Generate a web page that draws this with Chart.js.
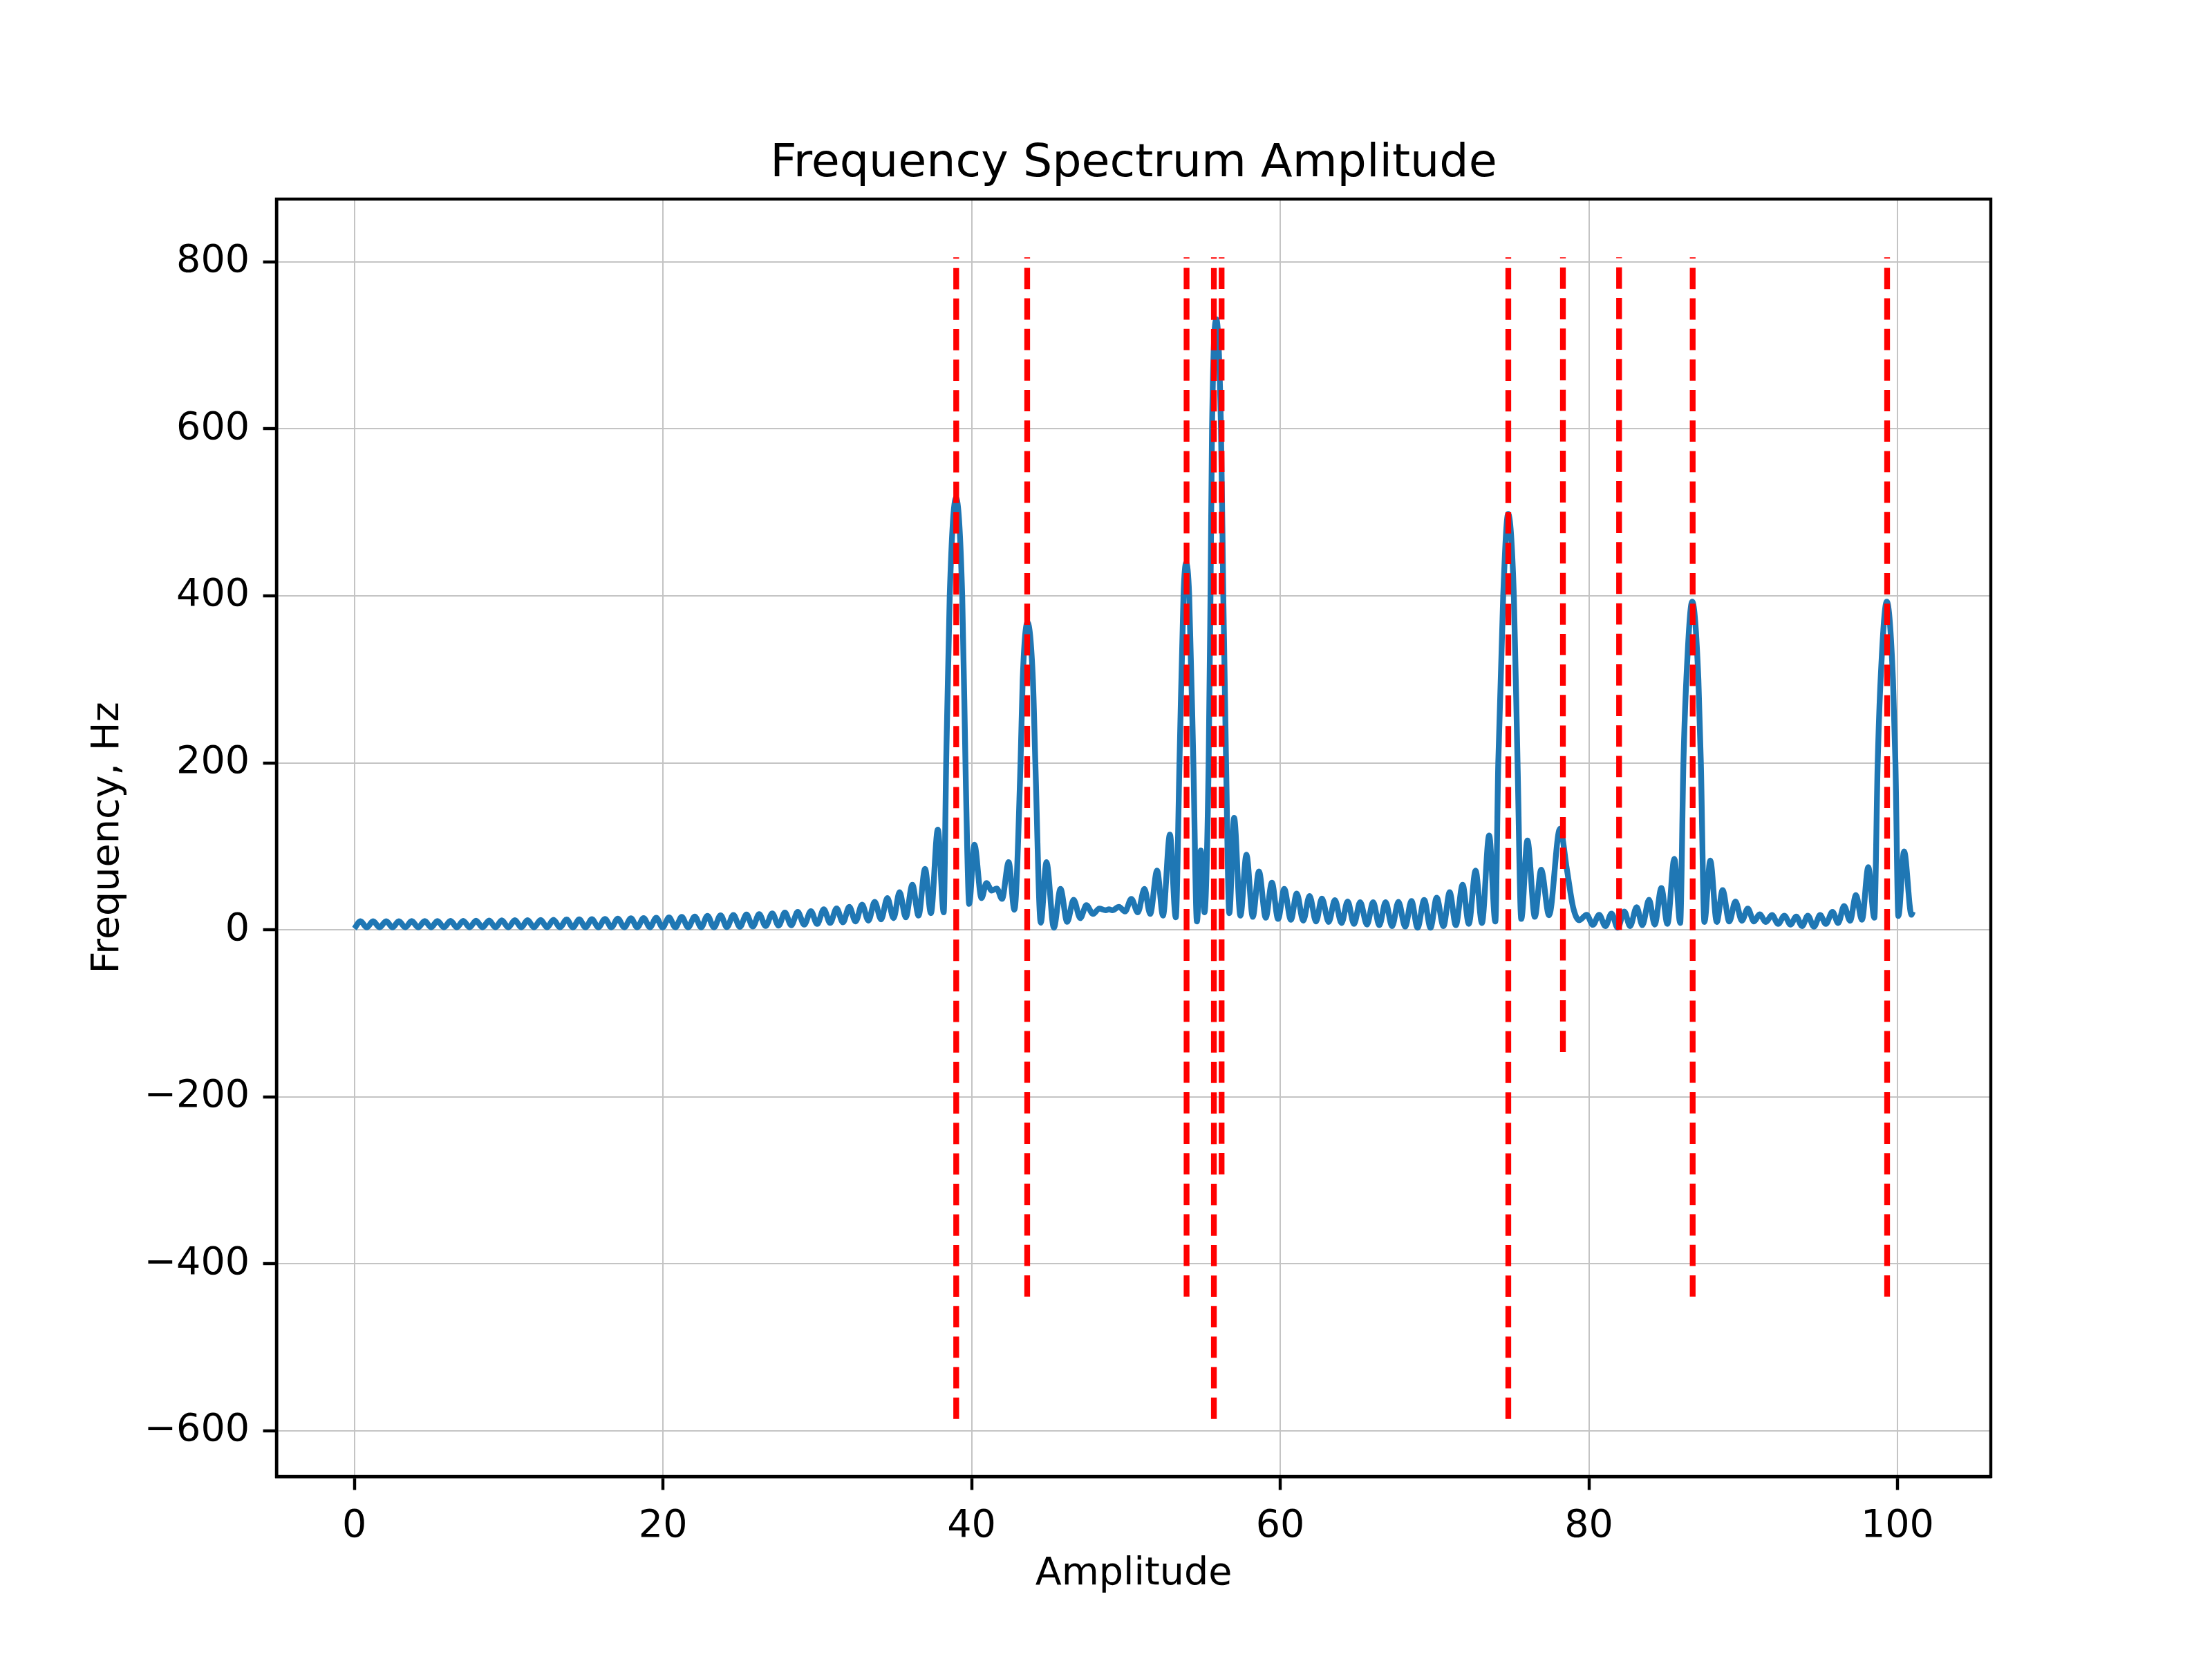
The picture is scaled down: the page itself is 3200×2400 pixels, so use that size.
<!DOCTYPE html>
<html>
<head>
<meta charset="utf-8">
<title>Frequency Spectrum Amplitude</title>
<script src="https://cdn.jsdelivr.net/npm/chart.js@4"></script>
<style>
  html, body { margin: 0; padding: 0; background: #fff; }
  #myChart { display: block; width: 3200px; height: 2400px; }
</style>
</head>
<body>
<canvas id="myChart" width="3200" height="2400"></canvas>
<script>
// spectrum curve (ripple peaks / troughs + main lobes)
const specX = [
  0, 0.39, 0.80, 1.21, 1.63, 2.06, 2.47, 2.88,
  3.30, 3.71, 4.13, 4.56, 4.97, 5.38, 5.80, 6.23,
  6.64, 7.05, 7.46, 7.88, 8.30, 8.73, 9.14, 9.55,
  9.97, 10.40, 10.81, 11.22, 11.64, 12.07, 12.48, 12.90,
  13.32, 13.75, 14.16, 14.57, 14.98, 15.39, 15.81, 16.24,
  16.65, 17.07, 17.49, 17.92, 18.33, 18.74, 19.15, 19.56,
  19.97, 20.39, 20.80, 21.21, 21.63, 22.06, 22.47, 22.88,
  23.30, 23.73, 24.14, 24.56, 24.98, 25.41, 25.82, 26.23,
  26.65, 27.08, 27.49, 27.90, 28.31, 28.73, 29.15, 29.58,
  29.99, 30.42, 30.83, 31.25, 31.66, 32.07, 32.48, 32.90,
  33.31, 33.72, 34.13, 34.54, 34.94, 35.33, 35.73, 36.16,
  36.56, 36.98, 37.36, 37.81, 38.19, 38.35, 38.58, 38.99,
  39.39, 39.60, 39.71, 39.84, 40.18, 40.64, 40.96, 41.31,
  41.63, 41.97, 42.40, 42.77, 43.17, 43.31, 43.62, 43.97,
  44.13, 44.48, 44.85, 45.33, 45.76, 46.19, 46.61, 47.04,
  47.44, 47.87, 48.27, 48.69, 48.90, 49.12, 49.55, 49.94,
  50.35, 50.77, 51.20, 51.57, 52.02, 52.40, 52.85, 53.23,
  53.47, 53.73, 53.90, 54.10, 54.37, 54.60, 54.85, 55.09,
  55.36, 55.48, 55.58, 55.86, 56.16, 56.31, 56.49, 56.70,
  57.01, 57.42, 57.81, 58.22, 58.62, 59.06, 59.46, 59.86,
  60.26, 60.69, 61.07, 61.49, 61.90, 62.32, 62.70, 63.14,
  63.54, 63.97, 64.37, 64.78, 65.18, 65.62, 66.02, 66.42,
  66.83, 67.25, 67.66, 68.10, 68.50, 68.90, 69.33, 69.74,
  70.14, 70.58, 70.98, 71.38, 71.82, 72.22, 72.66, 73.07,
  73.54, 73.94, 74.13, 74.45, 74.77, 75.14, 75.38, 75.62,
  76.02, 76.50, 76.91, 77.42, 78.13, 78.58, 78.98, 79.38,
  79.86, 80.26, 80.67, 81.07, 81.47, 81.87, 82.30, 82.67,
  83.10, 83.47, 83.90, 84.27, 84.70, 85.09, 85.54, 85.92,
  86.13, 86.32, 86.70, 87.10, 87.26, 87.49, 87.87, 88.29,
  88.67, 89.10, 89.50, 89.92, 90.30, 90.70, 91.07, 91.47,
  91.87, 92.27, 92.67, 93.07, 93.44, 93.82, 94.19, 94.59,
  94.99, 95.36, 95.79, 96.16, 96.54, 96.93, 97.31, 97.70,
  98.11, 98.50, 98.72, 98.91, 99.31, 99.71, 99.87, 100.06,
  100.43, 100.91, 101.00
];
const specY = [
  1.5, 10.4, 3, 10.4, 3, 10.4, 3, 10.4,
  3, 10.5, 3, 10.5, 3, 10.6, 3, 10.7,
  3, 10.8, 3, 10.9, 3, 11.1, 3, 11.3,
  3, 11.5, 3, 11.6, 3, 11.8, 3, 12.0,
  3, 12.3, 3, 12.5, 3, 12.8, 3, 13.1,
  3, 13.4, 3, 13.8, 3, 14.1, 3, 14.5,
  3, 14.8, 3, 15.4, 3, 16.0, 3, 16.8,
  3, 17.4, 3.2, 17.8, 3.5, 18.3, 4, 18.9,
  4.5, 19.7, 5, 20.6, 5.5, 21.4, 6.2, 22.4,
  7, 24.5, 8.3, 25.6, 9, 27.5, 10, 30.2,
  11, 33.5, 12.5, 38, 14, 45, 15, 54,
  17, 73, 20, 120, 21, 200, 400, 517,
  400, 200, 100, 31, 102, 38, 56, 47,
  49.5, 37, 81, 24, 200, 300, 368, 300,
  200, 8.5, 81, 2.5, 49, 9.5, 36, 14,
  29.5, 19, 25.5, 23.5, 24.5, 23.5, 27.5, 22,
  37, 21, 49, 19, 71, 17, 114, 15,
  200, 400, 439, 400, 200, 10, 95, 21,
  200, 400, 600, 731, 600, 400, 200, 20,
  134, 17, 90, 15.5, 70, 14.5, 56.5, 13,
  49, 12, 43.5, 11, 40.5, 10, 37.5, 9.4,
  35.5, 8.2, 34, 7.1, 33, 6.3, 33, 5.6,
  33, 4.4, 33.5, 3.7, 34.6, 2.5, 35.7, 2.5,
  38.4, 4.4, 45, 5.6, 54, 7.1, 71, 8.2,
  113, 10, 200, 400, 498, 400, 200, 13,
  107, 15.5, 72, 17.5, 121, 72, 27, 11.5,
  18, 6, 18, 4.4, 19.5, 2.5, 22, 4.4,
  27, 5.6, 36, 6.3, 50, 7.1, 85, 8.2,
  200, 300, 393, 300, 200, 9.4, 83, 9.4,
  47.5, 10, 34, 10.9, 25.5, 10, 18.5, 9.4,
  17.7, 7.1, 17, 6.3, 16, 4.4, 17, 3.7,
  17.7, 7.1, 21.5, 8.2, 28.5, 10.9, 41.5, 12,
  75, 14.5, 200, 300, 393, 300, 200, 16.5,
  94, 18, 22
];

// red dashed markers: position, lower end, common upper end
const markerX = [39.0, 43.6, 53.93, 55.7, 56.2, 74.78, 78.32, 81.96, 86.73, 99.33];
const markerLow = [-585.6, -439.2, -439.2, -585.6, -292.8, -585.6, -146.4, 0, -439.2, -439.2];
const markerHigh = 805.2;

const xTicks = [0, 20, 40, 60, 80, 100];
const yTicks = [-600, -400, -200, 0, 200, 400, 600, 800];

const FONT = "'DejaVu Sans', sans-serif";
const PT = 400 / 72; // figure drawn at 400 dpi

const minusSign = (v) => String(v).replace("-", "\u2212");

const boxPlugin = {
  id: "box",
  beforeDraw(chart) {
    const ctx = chart.ctx;
    ctx.save();
    ctx.fillStyle = "#fff";
    ctx.fillRect(0, 0, chart.width, chart.height);
    ctx.restore();
  },
  afterDatasetsDraw(chart) {
    const a = chart.chartArea;
    const ctx = chart.ctx;
    ctx.save();
    ctx.strokeStyle = "#000";
    ctx.lineWidth = 0.8 * PT;
    ctx.strokeRect(a.left, a.top, a.right - a.left, a.bottom - a.top);
    ctx.restore();
  }
};

const datasets = markerX.map((x, i) => ({
  data: [{ x: x, y: markerLow[i] }, { x: x, y: markerHigh }],
  borderColor: "#ff0000",
  borderWidth: 1.5 * PT,
  borderDash: [5.55 * PT, 2.4 * PT],
  pointRadius: 0,
  tension: 0,
  order: 0
}));

datasets.push({
  data: specX.map((x, i) => ({ x: x, y: specY[i] })),
  borderColor: "#1f77b4",
  borderWidth: 1.5 * PT,
  borderJoinStyle: "round",
  pointRadius: 0,
  cubicInterpolationMode: "monotone",
  order: 1
});

const tickFont = { family: FONT, size: 10 * PT };

// left padding 80 + y axis 320 = 400; empty right axis 320 -> title centred on the axes
const myChart = new Chart("myChart", {
  type: "line",
  data: { datasets: datasets },
  plugins: [boxPlugin],
  options: {
    responsive: false,
    devicePixelRatio: 1,
    animation: false,
    events: [],
    layout: { padding: { left: 80, right: 0, top: 0, bottom: 0 } },
    plugins: {
      legend: { display: false },
      tooltip: { enabled: false },
      title: {
        display: true,
        text: "Frequency Spectrum Amplitude",
        color: "#000",
        font: { family: FONT, size: 12 * PT, weight: "normal" },
        padding: { top: 198, bottom: 10 }
      }
    },
    scales: {
      x: {
        type: "linear",
        min: -5.05,
        max: 106.05,
        afterBuildTicks: (s) => { s.ticks = xTicks.map((v) => ({ value: v })); },
        afterFit: (s) => { s.height = 264; },
        grid: {
          color: "#c4c4c4",
          lineWidth: 2,
          tickColor: "#000",
          tickWidth: 0.8 * PT,
          tickLength: 3.5 * PT
        },
        border: { color: "#000", width: 0.8 * PT },
        ticks: {
          color: "#000",
          font: tickFont,
          padding: 3.5 * PT,
          maxRotation: 0,
          autoSkip: false,
          callback: minusSign
        },
        title: {
          display: true,
          text: "Amplitude",
          color: "#000",
          font: tickFont,
          padding: { top: 0, bottom: 89 }
        }
      },
      y: {
        type: "linear",
        min: -654.6,
        max: 875,
        afterBuildTicks: (s) => { s.ticks = yTicks.map((v) => ({ value: v })); },
        afterFit: (s) => { s.width = 320; },
        grid: {
          color: "#c4c4c4",
          lineWidth: 2,
          tickColor: "#000",
          tickWidth: 0.8 * PT,
          tickLength: 3.5 * PT
        },
        border: { color: "#000", width: 0.8 * PT },
        ticks: {
          color: "#000",
          font: tickFont,
          padding: 3.5 * PT,
          autoSkip: false,
          callback: minusSign
        },
        title: {
          display: true,
          text: "Frequency, Hz",
          color: "#000",
          font: tickFont,
          padding: { top: 43, bottom: 0 }
        }
      },
      yRight: {
        type: "linear",
        position: "right",
        display: true,
        min: 0,
        max: 1,
        afterFit: (s) => { s.width = 320; },
        grid: { display: false, drawOnChartArea: false, drawTicks: false },
        border: { display: false },
        ticks: { display: false }
      }
    }
  }
});
</script>
</body>
</html>
